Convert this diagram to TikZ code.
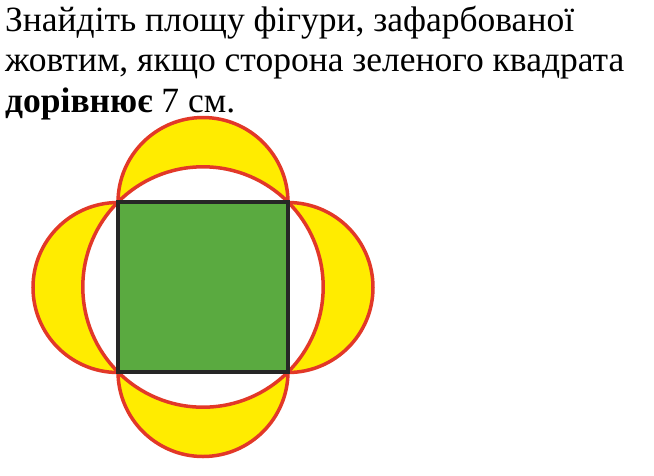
\documentclass[tikz,border=0pt]{standalone}
\usepackage{fontspec}
\setmainfont{Liberation Serif}
\definecolor{fillyellow}{RGB}{255,236,0}
\definecolor{linered}{RGB}{226,56,40}
\definecolor{sqgreen}{RGB}{90,170,64}
\tikzset{
  arcline/.style={draw=linered, line width=3.5pt},
  ring/.style={fill=white, draw=linered, line width=3.5pt},
  sq/.style={fill=sqgreen, draw=black!85, line width=4pt},
  task/.style={anchor=base west, inner sep=0pt, font=\fontsize{35.5}{40.5}\selectfont}
}
\begin{document}
\begin{tikzpicture}[x=1pt,y=-1pt]
\useasboundingbox (0,0) rectangle (654,475);
% text
\node[task] (t1) at (5,31) {Знайдіть площу фігури, зафарбованої};
\node[task] (t2) at (5,71.5) {жовтим, якщо сторона зеленого квадрата};
\node[task] (t3) at (5,112) {\textbf{дорівнює} 7 см.};
% geometry: square 118..288 x 202.5..371.5
\coordinate (c) at (203,287);
% semicircles (y axis points down, so angles run clockwise on screen)
\fill[fillyellow] (118,202.5) arc[start angle=180,end angle=360,radius=85] -- cycle;
\fill[fillyellow] (118,371.5) arc[start angle=180,end angle=0,radius=85] -- cycle;
\fill[fillyellow] (118,202.5) arc[start angle=270,end angle=90,radius=85] -- cycle;
\fill[fillyellow] (288,202.5) arc[start angle=270,end angle=450,radius=85] -- cycle;
\draw[arcline] (118,202.5) arc[start angle=180,end angle=360,radius=85];
\draw[arcline] (118,371.5) arc[start angle=180,end angle=0,radius=85];
\draw[arcline] (118,202.5) arc[start angle=270,end angle=90,radius=85];
\draw[arcline] (288,202.5) arc[start angle=270,end angle=450,radius=85];
% circle
\draw[ring] (c) circle[radius=120.2];
% square
\node[sq, minimum size=170pt, inner sep=0pt] (s) at (c) {};
\end{tikzpicture}
\end{document}
